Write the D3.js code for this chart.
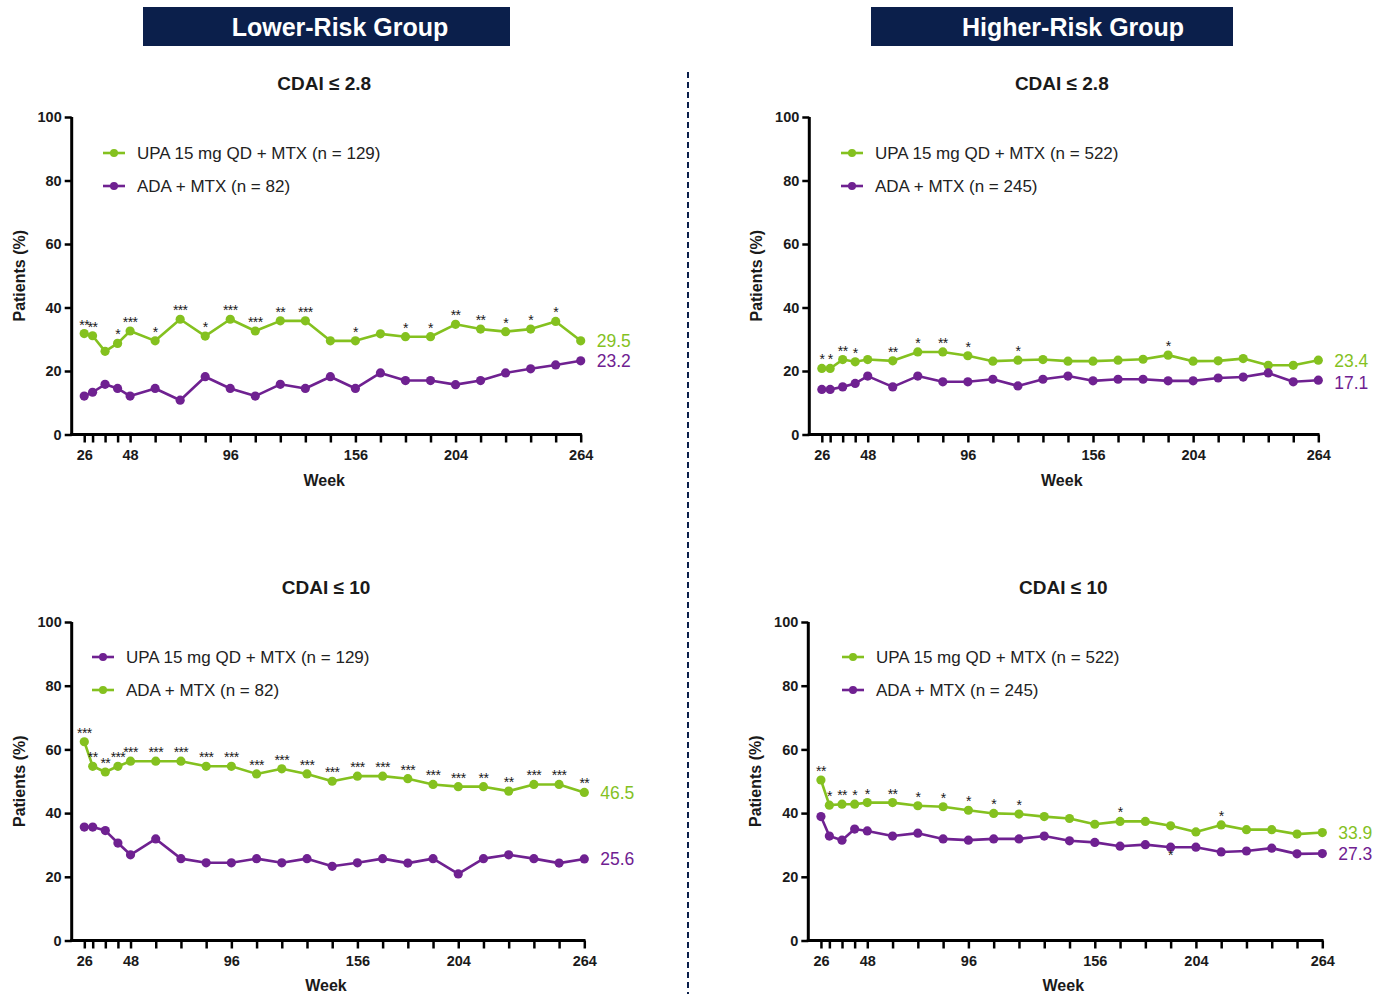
<!DOCTYPE html>
<html>
<head>
<meta charset="utf-8">
<script src="https://cdn.jsdelivr.net/npm/d3@7"></script>
<style>
  html, body { margin: 0; padding: 0; background: #fff; }
  svg { display: block; font-family: "Liberation Sans", Arial, sans-serif; }
</style>
</head>
<body>
<svg id="chart" width="1387" height="994"></svg>
<script>
// Visit weeks and the labelled subset on the x axis
const weeks = [26, 30, 36, 42, 48, 60, 72, 84, 96, 108, 120, 132, 144, 156, 168, 180, 192, 204, 216, 228, 240, 252, 264];
const weekTickLabels = [26, 48, 96, 156, 204, 264];
const yTicks = [0, 20, 40, 60, 80, 100];

// Lower-risk group, CDAI <= 2.8
const lowRemUpa = [31.8, 31.1, 26.2, 28.7, 32.6, 29.5, 36.3, 31.0, 36.3, 32.6, 35.8, 35.8, 29.5, 29.5, 31.7, 30.8, 30.8, 34.7, 33.2, 32.4, 33.2, 35.6, 29.5];
const lowRemAda = [12.1, 13.3, 15.8, 14.5, 12.1, 14.5, 10.8, 18.2, 14.5, 12.1, 15.8, 14.5, 18.2, 14.5, 19.4, 17.0, 17.0, 15.7, 17.0, 19.4, 20.7, 21.9, 23.2];
const lowRemStars = ["**", "**", "", "*", "***", "*", "***", "*", "***", "***", "**", "***", "", "*", "", "*", "*", "**", "**", "*", "*", "*", ""];

// Higher-risk group, CDAI <= 2.8
const highRemUpa = [20.8, 20.8, 23.6, 22.9, 23.6, 23.2, 26.0, 26.0, 24.8, 23.1, 23.4, 23.6, 23.1, 23.1, 23.4, 23.7, 25.0, 23.1, 23.2, 23.9, 21.8, 21.8, 23.4];
const highRemAda = [14.2, 14.2, 15.0, 16.1, 18.4, 15.0, 18.4, 16.6, 16.6, 17.4, 15.3, 17.4, 18.4, 16.9, 17.4, 17.4, 16.9, 16.9, 17.8, 18.1, 19.4, 16.6, 17.1];
const highRemStars = ["*", "*", "**", "*", "", "**", "*", "**", "*", "", "*", "", "", "", "", "", "*", "", "", "", "", "", ""];

// Lower-risk group, CDAI <= 10
const lowLdaUpa = [62.4, 54.7, 52.9, 54.7, 56.3, 56.3, 56.3, 54.7, 54.7, 52.3, 53.9, 52.3, 50.0, 51.6, 51.6, 50.8, 49.0, 48.3, 48.3, 46.9, 49.0, 49.0, 46.5];
const lowLdaAda = [35.6, 35.6, 34.5, 30.6, 26.9, 31.9, 25.7, 24.4, 24.4, 25.7, 24.4, 25.7, 23.3, 24.4, 25.7, 24.3, 25.7, 20.9, 25.7, 26.9, 25.7, 24.3, 25.6];
const lowLdaStars = ["***", "**", "**", "***", "***", "***", "***", "***", "***", "***", "***", "***", "***", "***", "***", "***", "***", "***", "**", "**", "***", "***", "**"];

// Higher-risk group, CDAI <= 10
const highLdaUpa = [50.4, 42.5, 42.8, 42.8, 43.3, 43.3, 42.3, 42.0, 40.9, 39.9, 39.7, 38.9, 38.3, 36.5, 37.4, 37.4, 36.0, 34.1, 36.3, 34.8, 34.8, 33.4, 33.9];
const highLdaAda = [38.9, 32.8, 31.5, 35.0, 34.4, 32.8, 33.7, 31.9, 31.5, 31.9, 31.9, 32.8, 31.3, 30.8, 29.6, 30.1, 29.3, 29.3, 27.8, 28.1, 29.0, 27.2, 27.3];
const highLdaStars = ["**", "*", "**", "*", "*", "**", "*", "*", "*", "*", "*", "", "", "", "*", "", "", "", "*", "", "", "", ""];
const highLdaAdaStars = ["", "", "", "", "", "", "", "", "", "", "", "", "", "", "", "", "*", "", "", "", "", "", ""];

const GREEN = "#84c11f";
const PURPLE = "#6f2191";
const NAVY = "#0b1f4b";
const INK = "#1a1a1a";

const svg = d3.select("#chart");

// Group headers
const headers = [
  { text: "Lower-Risk Group", x0: 143, x1: 510, tx: 340 },
  { text: "Higher-Risk Group", x0: 871, x1: 1233, tx: 1073 }
];
headers.forEach(h => {
  svg.append("rect").attr("x", h.x0).attr("y", 7).attr("width", h.x1 - h.x0).attr("height", 39).attr("fill", NAVY);
  svg.append("text").attr("x", h.tx).attr("y", 35.5).attr("text-anchor", "middle")
    .attr("fill", "#fff").attr("font-size", 25).attr("font-weight", "bold").text(h.text);
});

// Divider between the two groups
svg.append("line").attr("x1", 688).attr("x2", 688).attr("y1", 72).attr("y2", 994)
  .attr("stroke", NAVY).attr("stroke-width", 2).attr("stroke-dasharray", "6,4");

const panels = [
  { title: "CDAI \u2264 2.8", x0: 71.7, x1: 580.7, yTop: 117, yBot: 434.5,
    titleY: 90, weekY: 486,
    series: [
      { name: "UPA 15 mg QD + MTX (n = 129)", values: lowRemUpa, color: GREEN, stars: lowRemStars, endDy: 0 },
      { name: "ADA + MTX (n = 82)", values: lowRemAda, color: PURPLE, stars: null, endDy: 0 }
    ],
    legend: { x: 103, y: 153, dy: 33, colors: [GREEN, PURPLE] } },
  { title: "CDAI \u2264 2.8", x0: 809.3, x1: 1318.3, yTop: 117, yBot: 434.5,
    titleY: 90, weekY: 486,
    series: [
      { name: "UPA 15 mg QD + MTX (n = 522)", values: highRemUpa, color: GREEN, stars: highRemStars, endDy: 0 },
      { name: "ADA + MTX (n = 245)", values: highRemAda, color: PURPLE, stars: null, endDy: 2 }
    ],
    legend: { x: 841, y: 153, dy: 33, colors: [GREEN, PURPLE] } },
  { title: "CDAI \u2264 10", x0: 71.7, x1: 584.3, yTop: 622, yBot: 940.5,
    titleY: 594, weekY: 991,
    series: [
      { name: "UPA 15 mg QD + MTX (n = 129)", values: lowLdaUpa, color: GREEN, stars: lowLdaStars, endDy: 0 },
      { name: "ADA + MTX (n = 82)", values: lowLdaAda, color: PURPLE, stars: null, endDy: 0 }
    ],
    // legend swatch colours as printed on this panel
    legend: { x: 92, y: 657, dy: 33, colors: [PURPLE, GREEN] } },
  { title: "CDAI \u2264 10", x0: 808.3, x1: 1322.3, yTop: 622, yBot: 940.5,
    titleY: 594, weekY: 991,
    series: [
      { name: "UPA 15 mg QD + MTX (n = 522)", values: highLdaUpa, color: GREEN, stars: highLdaStars, endDy: 0 },
      { name: "ADA + MTX (n = 245)", values: highLdaAda, color: PURPLE, stars: null, belowStars: highLdaAdaStars, endDy: 0 }
    ],
    legend: { x: 842, y: 657, dy: 33, colors: [GREEN, PURPLE] } }
];

panels.forEach(p => {
  const g = svg.append("g");
  const x = d3.scaleLinear().domain([20, 264]).range([p.x0, p.x1]);
  const y = d3.scaleLinear().domain([0, 100]).range([p.yBot, p.yTop]);
  const cx = (p.x0 + p.x1) / 2 - 2;

  // Title
  g.append("text").attr("x", cx).attr("y", p.titleY).attr("text-anchor", "middle")
    .attr("font-size", 19).attr("font-weight", "bold").attr("fill", INK).text(p.title);

  // Y axis
  const yAxis = d3.axisLeft(y).tickValues(yTicks).tickSize(7).tickPadding(3);
  const ya = g.append("g").attr("transform", `translate(${p.x0},0)`).call(yAxis);
  ya.select(".domain").attr("stroke", "#000").attr("stroke-width", 3).attr("d", `M0,${p.yBot + 1.5}V${p.yTop}`);
  ya.selectAll(".tick line").attr("stroke", "#000").attr("stroke-width", 2.5);
  ya.selectAll(".tick text").attr("font-size", 14.5).attr("font-weight", "bold").attr("fill", INK)
    .attr("font-family", "Liberation Sans, Arial, sans-serif");

  // X axis: a tick at every visit, labels at selected weeks
  const xAxis = d3.axisBottom(x).tickValues(weeks).tickSize(8).tickPadding(7)
    .tickFormat(d => weekTickLabels.includes(d) ? d : "");
  const xa = g.append("g").attr("transform", `translate(0,${p.yBot})`).call(xAxis);
  xa.select(".domain").attr("stroke", "#000").attr("stroke-width", 3).attr("d", `M${p.x0 - 1.5},0H${p.x1 + 1.2}`);
  xa.selectAll(".tick line").attr("stroke", "#000").attr("stroke-width", 2.5);
  xa.selectAll(".tick text").attr("font-size", 14.5).attr("font-weight", "bold").attr("fill", INK)
    .attr("font-family", "Liberation Sans, Arial, sans-serif");

  // Axis titles
  g.append("text").attr("x", cx).attr("y", p.weekY).attr("text-anchor", "middle")
    .attr("font-size", 16).attr("font-weight", "bold").attr("fill", INK).text("Week");
  g.append("text")
    .attr("transform", `translate(${p.x0 - 47},${(p.yTop + p.yBot) / 2}) rotate(-90)`)
    .attr("text-anchor", "middle").attr("font-size", 16).attr("font-weight", "bold").attr("fill", INK)
    .text("Patients (%)");

  // Series lines and markers
  const line = d3.line().x((d, i) => x(weeks[i])).y(d => y(d));
  p.series.forEach(s => {
    g.append("path").datum(s.values).attr("d", line).attr("fill", "none")
      .attr("stroke", s.color).attr("stroke-width", 2.6).attr("stroke-linejoin", "round");
    g.selectAll(null).data(s.values).enter().append("circle")
      .attr("cx", (d, i) => x(weeks[i])).attr("cy", d => y(d)).attr("r", 4.6).attr("fill", s.color);
  });

  // Significance markers
  p.series.forEach(s => {
    if (s.stars) {
      g.selectAll(null).data(s.values).enter().append("text")
        .attr("x", (d, i) => x(weeks[i])).attr("y", d => y(d) - 4)
        .attr("text-anchor", "middle").attr("font-size", 14).attr("letter-spacing", -0.6).attr("fill", INK)
        .text((d, i) => s.stars[i]);
    }
    if (s.belowStars) {
      g.selectAll(null).data(s.values).enter().append("text")
        .attr("x", (d, i) => x(weeks[i])).attr("y", d => y(d) + 13)
        .attr("text-anchor", "middle").attr("font-size", 14).attr("fill", INK)
        .text((d, i) => s.belowStars[i]);
    }
  });

  // End-of-study values
  p.series.forEach(s => {
    const last = s.values[s.values.length - 1];
    g.append("text").attr("x", p.x1 + 16).attr("y", y(last) + 6.5 + s.endDy)
      .attr("font-size", 17.5).attr("fill", s.color).text(last.toFixed(1));
  });

  // Legend
  p.series.forEach((s, i) => {
    const ly = p.legend.y + i * p.legend.dy;
    const c = p.legend.colors[i];
    g.append("line").attr("x1", p.legend.x).attr("x2", p.legend.x + 22).attr("y1", ly).attr("y2", ly)
      .attr("stroke", c).attr("stroke-width", 2.6);
    g.append("circle").attr("cx", p.legend.x + 11).attr("cy", ly).attr("r", 4).attr("fill", c);
    g.append("text").attr("x", p.legend.x + 34).attr("y", ly + 6)
      .attr("font-size", 17).attr("fill", "#222").text(s.name);
  });
});
</script>
</body>
</html>
